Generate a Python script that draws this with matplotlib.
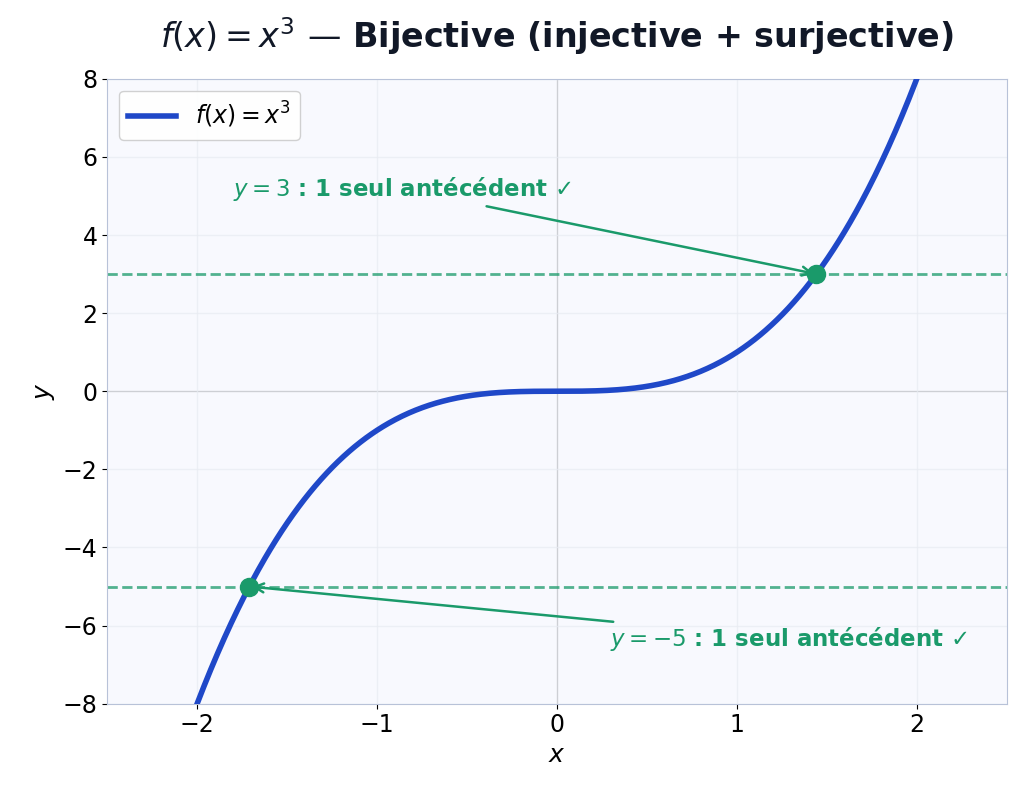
import numpy as np
import matplotlib.pyplot as plt

x_range = (-2.5, 2.5)
y_range = (-8, 8)
targets = [3, -5]
label_pos = [(-0.86, 5.18), (1.29, -6.34)]

blue = '#1f48c8'
green = '#1a9a6a'

fig, ax = plt.subplots(figsize=(10.21, 7.96), dpi=100)
fig.subplots_adjust(left=0.105, right=0.986, top=0.901, bottom=0.116)
ax.set_facecolor('#f8f9fe')

x = np.linspace(-2.5, 2.5, 800)
ax.plot(x, x**3, color=blue, lw=4, label='$f(x) = x^3$', zorder=3)

ax.axhline(0, color='#8f8f8f', lw=0.8, zorder=1)
ax.axvline(0, color='#8f8f8f', lw=0.8, zorder=1)

for yt, (tx, ty) in zip(targets, label_pos):
    xt = np.cbrt(yt)
    ax.axhline(yt, color=green, ls='--', lw=2, alpha=0.75, zorder=2)
    ax.plot(xt, yt, 'o', color=green, ms=13, zorder=4)
    ax.annotate(f'$y = {yt}$ : 1 seul antécédent ✓', xy=(xt, yt), xytext=(tx, ty),
                ha='center', va='center', color=green, fontsize=16.5, fontweight='bold',
                arrowprops=dict(arrowstyle='->', color=green, lw=1.8, mutation_scale=16))

ax.set_xlim(*x_range)
ax.set_ylim(*y_range)
ax.set_xticks([-2, -1, 0, 1, 2])
ax.set_yticks(np.arange(-8, 9, 2))
ax.grid(True, color='#e8ebf2', lw=1, alpha=0.7)
ax.tick_params(labelsize=17)
for s in ax.spines.values():
    s.set_color('#b8c2d8')
ax.set_xlabel('$x$', fontsize=18)
ax.set_ylabel('$y$', fontsize=18)
ax.set_title('$f(x) = x^3$ — Bijective (injective + surjective)', fontsize=24,
             fontweight='bold', color='#111827', pad=22)
ax.legend(loc='upper left', fontsize=17, framealpha=0.9)

fig.savefig('out.png')
